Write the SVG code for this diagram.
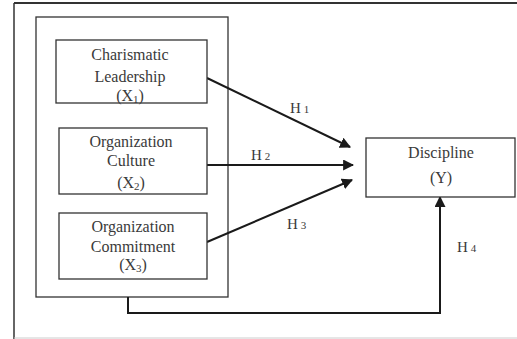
<svg xmlns="http://www.w3.org/2000/svg" width="517" height="339" viewBox="0 0 517 339">
<style>
.box{fill:#fff;stroke:#333;stroke-width:1.3}
.frame{fill:none;stroke:#333;stroke-width:1.3}
.t{font-family:"Liberation Serif","Times New Roman",serif;font-size:16px;fill:#3a3a3a;text-anchor:middle}
.h{font-family:"Liberation Serif","Times New Roman",serif;font-size:15px;fill:#3a3a3a}
.c{fill:none;stroke:#1a1a1a;stroke-width:2}
</style>
<defs>
<marker id="ah" viewBox="0 0 10 10" refX="9" refY="5" markerWidth="5.5" markerHeight="5.5" orient="auto" markerUnits="strokeWidth">
<path d="M0,0 L10,5 L0,10 z" fill="#1a1a1a"/>
</marker>
</defs>
<rect width="517" height="339" fill="#fff"/>
<g id="outer-frame">
<line x1="14" y1="3" x2="517" y2="3" stroke="#333" stroke-width="2"/>
<line x1="14" y1="3" x2="14" y2="339" stroke="#333" stroke-width="1.5"/>
<line x1="14" y1="338" x2="517" y2="338" stroke="#ccc" stroke-width="1"/>
</g>
<g id="inner-frame">
<rect class="frame" x="36" y="17" width="192" height="280"/>
</g>
<g id="connectors">
<line class="c" x1="207" y1="78" x2="350" y2="147" marker-end="url(#ah)"/>
<line class="c" x1="207" y1="165" x2="353" y2="165" marker-end="url(#ah)"/>
<line class="c" x1="207" y1="242" x2="352" y2="180" marker-end="url(#ah)"/>
<polyline class="c" points="128,297 128,313 440,313 440,197" marker-end="url(#ah)"/>
<text class="h" x="290" y="113">H<tspan font-size="11" dx="3">1</tspan></text>
<text class="h" x="251" y="160">H<tspan font-size="11" dx="3">2</tspan></text>
<text class="h" x="287" y="229">H<tspan font-size="11" dx="3">3</tspan></text>
<text class="h" x="457" y="252">H<tspan font-size="11" dx="3">4</tspan></text>
</g>
<g id="x1">
<rect class="box" x="56" y="40" width="151" height="63"/>
<text class="t" x="130" y="60">Charismatic</text>
<text class="t" x="130" y="82">Leadership</text>
<text class="t" x="130" y="101">(X<tspan font-size="11" dy="2">1</tspan><tspan dy="-2">)</tspan></text>
</g>
<g id="x2">
<rect class="box" x="59" y="128" width="148" height="66"/>
<text class="t" x="131" y="147">Organization</text>
<text class="t" x="131" y="166">Culture</text>
<text class="t" x="131" y="188">(X<tspan font-size="11" dy="2">2</tspan><tspan dy="-2">)</tspan></text>
</g>
<g id="x3">
<rect class="box" x="59" y="213" width="148" height="66"/>
<text class="t" x="133" y="232">Organization</text>
<text class="t" x="133" y="252">Commitment</text>
<text class="t" x="133" y="270">(X<tspan font-size="11" dy="2">3</tspan><tspan dy="-2">)</tspan></text>
</g>
<g id="y">
<rect class="box" x="366" y="138" width="149" height="59"/>
<text class="t" x="441" y="158">Discipline</text>
<text class="t" x="441" y="183">(Y)</text>
</g>
</svg>
